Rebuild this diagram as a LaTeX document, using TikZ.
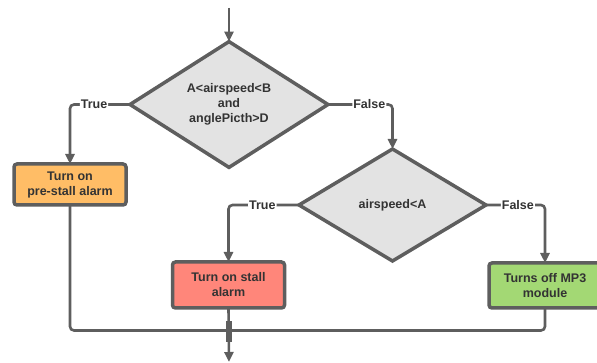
\documentclass[tikz,border=0pt]{standalone}
\usepackage{fontspec}
\setmainfont{Liberation Sans}
\usetikzlibrary{calc,shapes.geometric,arrows.meta}
\definecolor{edgegray}{RGB}{94,94,94}
\definecolor{textgray}{RGB}{51,51,51}
\definecolor{diafill}{RGB}{227,227,227}
\definecolor{orangefill}{RGB}{255,189,102}
\definecolor{redfill}{RGB}{255,134,122}
\definecolor{greenfill}{RGB}{163,216,116}
\tikzset{
	txt/.style={font=\bfseries\fontsize{12.5}{15}\selectfont, text=textgray, align=center},
	decision/.style={txt, diamond, draw=edgegray, line width=3.5pt, fill=diafill, inner sep=0pt, outer sep=0pt},
	action/.style={txt, rectangle, rounded corners=3pt, draw=edgegray, line width=3.5pt, minimum width=112pt, inner sep=0pt, outer sep=0pt},
	flow/.style={draw=edgegray, line width=2.6pt, rounded corners=4pt},
	arr/.style={flow, -{Triangle[length=10pt,width=9pt]}},
	lbl/.style={txt, fill=white, inner sep=1pt}
}

\begin{document}
\begin{tikzpicture}[x=1pt, y=-1pt]
		%%%%% START %%%%%
		
		\useasboundingbox (0, 0) rectangle (597, 363);
		
		\coordinate (start) at (229, 8);
		\node[decision, minimum width=198pt, minimum height=113pt] (cond1) at (229, 104.5) {A<airspeed<B\\and\\anglePicth>D};
		\node[decision, minimum width=187pt, minimum height=112pt] (cond2) at (392.5, 205) {airspeed<A};
		
		\node[action, fill=orangefill, minimum height=41pt] (prestall) at (70, 184.5) {Turn on\\pre-stall alarm};
		\node[action, fill=redfill, minimum height=46pt] (stall) at (228.5, 285) {Turn on stall\\alarm};
		\node[action, fill=greenfill, minimum height=45pt] (mp3) at (545, 285.5) {Turns off MP3\\module};
		
		\coordinate (merge) at (229, 330.5);
		\coordinate (finish) at (229, 362);
		
		\draw[arr] (start) -- (cond1.north);
		\draw[arr] (cond1.west) -| node[lbl, pos=0.3] {True} (prestall.north);
		\draw[arr] (cond1.east) -| node[lbl, pos=0.32] {False} (cond2.north);
		\draw[arr] (cond2.west) -| node[lbl, pos=0.26] {True} (stall.north);
		\draw[arr] (cond2.east) -| node[lbl, pos=0.27] {False} (mp3.north);
		
		\draw[flow] (prestall.south) |- (merge);
		\draw[flow] (mp3.south) |- (merge);
		\draw[arr] (stall.south) -- (finish);
		\draw[draw=edgegray, line width=5.5pt] ($(merge)+(0,-9)$) -- ($(merge)+(0,11)$);
		
		%%%%% END %%%%%
	\end{tikzpicture}
\end{document}
